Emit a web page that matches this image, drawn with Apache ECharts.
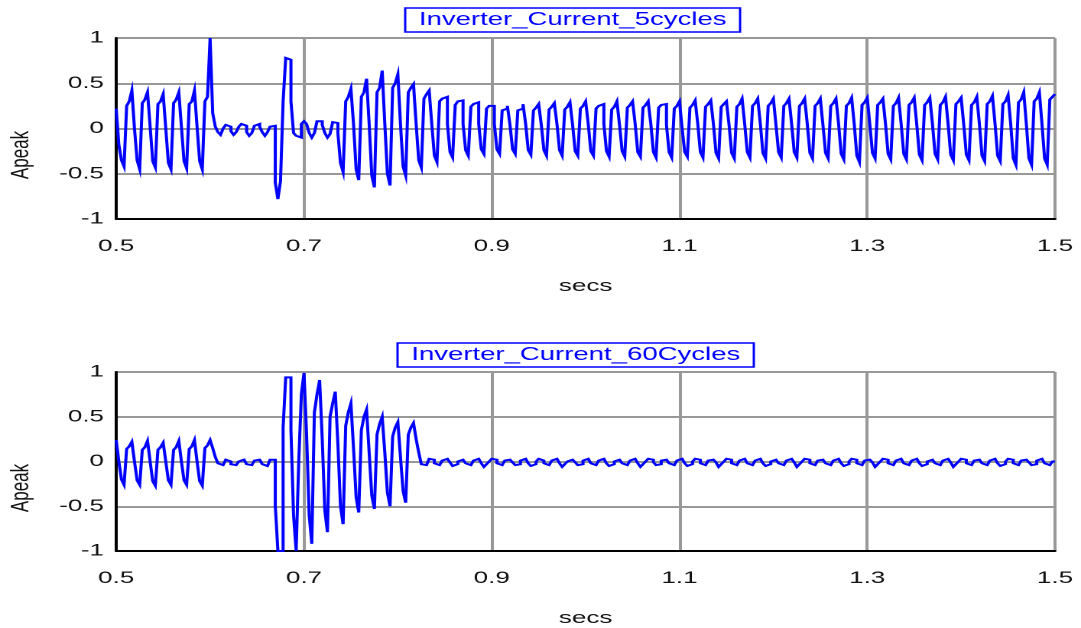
<!DOCTYPE html>
<html>
<head>
<meta charset="utf-8">
<script src="https://cdn.jsdelivr.net/npm/echarts@6/dist/echarts.min.js"></script>
<style>
  html, body { margin: 0; padding: 0; background: #fff; overflow: hidden; }
  /* the source plot is stretched horizontally, so draw narrow and stretch */
  #chart { width: 707px; height: 628px; transform: scaleX(1.529); transform-origin: 0 0; }
</style>
</head>
<body>
<div id="chart"></div>
<script>
// 采样: 0.5s 起, 每个 60Hz 周期 6 个点 (dt = 1/360 s)
var tStart = 0.5;
var dt = 1 / 360;

var titles = ['Inverter_Current_5cycles', 'Inverter_Current_60Cycles'];
var xName = 'secs';
var yName = 'Apeak';

// 上图: 每行一个周期 [峰, 中, 低, 谷, 高, 高]
var curr5 = [
  [0.22, -0.18, -0.35, -0.42, 0.25, 0.3],
  [0.42, 0.0, -0.35, -0.45, 0.28, 0.32],
  [0.4, 0.02, -0.36, -0.43, 0.27, 0.3],
  [0.38, 0.0, -0.38, -0.45, 0.28, 0.32],
  [0.4, 0.02, -0.36, -0.44, 0.27, 0.3],
  [0.42, 0.02, -0.36, -0.45, 0.3, 0.35],
  [1.0, 0.17, 0.02, -0.04, -0.07, 0.0],
  [0.04, 0.02, -0.03, -0.07, -0.04, 0.02],
  [0.05, 0.03, -0.04, -0.08, -0.05, 0.03],
  [0.05, 0.02, -0.04, -0.08, -0.04, 0.02],
  [0.03, -0.6, -0.78, -0.58, 0.3, 0.78],
  [0.76, 0.3, -0.05, -0.08, -0.1, 0.05],
  [0.08, 0.05, -0.05, -0.1, -0.05, 0.08],
  [0.08, 0.04, -0.05, -0.1, -0.06, 0.07],
  [0.06, -0.05, -0.38, -0.48, 0.3, 0.35],
  [0.44, 0.05, -0.45, -0.57, 0.35, 0.4],
  [0.55, 0.05, -0.52, -0.65, 0.4, 0.45],
  [0.64, 0.05, -0.5, -0.63, 0.45, 0.5],
  [0.6, 0.05, -0.42, -0.52, 0.4, 0.45],
  [0.49, 0.05, -0.35, -0.43, 0.33, 0.38],
  [0.42, 0.05, -0.3, -0.37, 0.3, 0.33],
  [0.35, 0.05, -0.26, -0.32, 0.26, 0.3],
  [0.31, 0.05, -0.24, -0.3, 0.24, 0.27],
  [0.29, 0.05, -0.23, -0.28, 0.22, 0.25],
  [0.25, 0.05, -0.23, -0.28, 0.2, 0.22],
  [0.25, 0.04, -0.23, -0.28, 0.2, 0.22],
  [0.27, 0.05, -0.24, -0.29, 0.2, 0.23],
  [0.27, 0.04, -0.24, -0.3, 0.21, 0.24],
  [0.28, 0.05, -0.24, -0.3, 0.21, 0.24],
  [0.29, 0.04, -0.25, -0.3, 0.22, 0.25],
  [0.3, 0.05, -0.25, -0.3, 0.22, 0.25],
  [0.27, 0.05, -0.25, -0.31, 0.21, 0.24],
  [0.3, 0.04, -0.25, -0.31, 0.23, 0.26],
  [0.3, 0.05, -0.26, -0.31, 0.23, 0.26],
  [0.3, 0.05, -0.26, -0.32, 0.23, 0.26],
  [0.27, 0.04, -0.26, -0.32, 0.22, 0.25],
  [0.3, 0.0, -0.26, -0.31, 0.23, 0.26],
  [0.31, 0.05, -0.26, -0.32, 0.24, 0.27],
  [0.31, 0.05, -0.27, -0.33, 0.24, 0.27],
  [0.3, 0.04, -0.27, -0.33, 0.24, 0.27],
  [0.33, 0.05, -0.26, -0.32, 0.25, 0.28],
  [0.33, 0.05, -0.27, -0.33, 0.25, 0.28],
  [0.33, 0.04, -0.26, -0.32, 0.25, 0.28],
  [0.33, 0.05, -0.26, -0.32, 0.25, 0.28],
  [0.33, 0.05, -0.27, -0.33, 0.25, 0.28],
  [0.33, 0.04, -0.27, -0.33, 0.25, 0.28],
  [0.33, 0.05, -0.28, -0.34, 0.25, 0.28],
  [0.34, 0.05, -0.3, -0.37, 0.26, 0.29],
  [0.34, 0.04, -0.27, -0.33, 0.26, 0.29],
  [0.33, 0.05, -0.28, -0.34, 0.25, 0.28],
  [0.34, 0.05, -0.28, -0.34, 0.26, 0.29],
  [0.34, 0.04, -0.29, -0.35, 0.26, 0.29],
  [0.34, 0.05, -0.28, -0.34, 0.26, 0.29],
  [0.35, 0.05, -0.29, -0.35, 0.27, 0.3],
  [0.34, 0.04, -0.29, -0.35, 0.26, 0.29],
  [0.35, 0.05, -0.3, -0.36, 0.27, 0.3],
  [0.36, 0.05, -0.3, -0.36, 0.27, 0.3],
  [0.37, 0.05, -0.33, -0.4, 0.29, 0.32],
  [0.4, 0.05, -0.33, -0.4, 0.3, 0.33],
  [0.4, 0.05, -0.33, -0.4, 0.32, 0.35]
];
var curr5End = 0.38;

// 下图
var curr60 = [
  [0.24, 0.0, -0.2, -0.26, 0.14, 0.17],
  [0.22, 0.0, -0.21, -0.26, 0.13, 0.16],
  [0.23, 0.0, -0.22, -0.27, 0.13, 0.16],
  [0.21, 0.0, -0.21, -0.26, 0.13, 0.16],
  [0.23, 0.0, -0.21, -0.26, 0.14, 0.17],
  [0.24, 0.0, -0.22, -0.27, 0.15, 0.18],
  [0.24, 0.15, 0.05, -0.02, -0.04, -0.03],
  [0.02, 0.0, -0.03, -0.04, -0.03, 0.0],
  [0.02, 0.01, -0.03, -0.04, -0.03, 0.01],
  [0.02, 0.0, -0.03, -0.05, -0.04, 0.02],
  [0.02, -0.5, -1.0, -1.0, 0.38, 0.94],
  [0.94, 0.35, -0.6, -1.0, 0.0, 0.75],
  [0.99, 0.3, -0.6, -0.92, 0.55, 0.75],
  [0.91, 0.25, -0.55, -0.79, 0.5, 0.65],
  [0.78, 0.2, -0.5, -0.7, 0.4, 0.55],
  [0.65, 0.15, -0.4, -0.57, 0.35, 0.5],
  [0.58, 0.1, -0.38, -0.53, 0.3, 0.42],
  [0.5, 0.1, -0.35, -0.5, 0.28, 0.38],
  [0.44, 0.05, -0.33, -0.46, 0.3, 0.38],
  [0.43, 0.25, 0.1, -0.03, -0.04, -0.02],
  [0.03, 0.02, -0.02, -0.04, -0.03, 0.01],
  [0.03, 0.02, -0.01, -0.05, -0.03, 0.0],
  [0.02, 0.02, -0.02, -0.04, -0.02, 0.01],
  [0.03, 0.01, -0.02, -0.06, -0.03, 0.0],
  [0.03, 0.02, -0.02, -0.04, -0.03, 0.01],
  [0.02, 0.02, -0.01, -0.04, -0.03, 0.01],
  [0.03, 0.02, -0.02, -0.05, -0.03, 0.0],
  [0.03, 0.01, -0.02, -0.04, -0.02, 0.01],
  [0.03, 0.02, -0.02, -0.06, -0.03, 0.0],
  [0.02, 0.02, -0.01, -0.04, -0.03, 0.01],
  [0.03, 0.02, -0.02, -0.04, -0.03, 0.01],
  [0.03, 0.01, -0.02, -0.05, -0.03, 0.0],
  [0.02, 0.02, -0.02, -0.04, -0.02, 0.01],
  [0.03, 0.02, -0.02, -0.06, -0.03, 0.0],
  [0.03, 0.02, -0.01, -0.04, -0.03, 0.01],
  [0.02, 0.01, -0.02, -0.04, -0.03, 0.01],
  [0.03, 0.02, -0.02, -0.05, -0.03, 0.0],
  [0.03, 0.02, -0.02, -0.04, -0.02, 0.01],
  [0.02, 0.02, -0.01, -0.06, -0.03, 0.0],
  [0.03, 0.02, -0.02, -0.04, -0.03, 0.01],
  [0.03, 0.01, -0.02, -0.04, -0.03, 0.01],
  [0.03, 0.02, -0.02, -0.05, -0.03, 0.0],
  [0.02, 0.02, -0.02, -0.04, -0.02, 0.01],
  [0.03, 0.02, -0.01, -0.06, -0.03, 0.0],
  [0.03, 0.02, -0.02, -0.04, -0.03, 0.01],
  [0.02, 0.01, -0.02, -0.04, -0.03, 0.01],
  [0.03, 0.02, -0.02, -0.05, -0.03, 0.0],
  [0.03, 0.02, -0.02, -0.04, -0.02, 0.01],
  [0.02, 0.02, -0.01, -0.06, -0.03, 0.0],
  [0.03, 0.02, -0.02, -0.04, -0.03, 0.01],
  [0.03, 0.01, -0.02, -0.04, -0.03, 0.01],
  [0.03, 0.02, -0.02, -0.05, -0.03, 0.0],
  [0.02, 0.02, -0.02, -0.04, -0.02, 0.01],
  [0.03, 0.02, -0.01, -0.06, -0.03, 0.0],
  [0.03, 0.02, -0.02, -0.04, -0.03, 0.01],
  [0.02, 0.01, -0.02, -0.04, -0.03, 0.01],
  [0.03, 0.02, -0.02, -0.05, -0.03, 0.0],
  [0.03, 0.02, -0.02, -0.04, -0.02, 0.01],
  [0.02, 0.02, -0.01, -0.04, -0.03, 0.01],
  [0.03, 0.02, -0.02, -0.04, -0.03, 0.0]
];
var curr60End = 0.0;

// 采样保持: 每个采样值保持到下一个采样时刻 (阶梯线)
function toPoints(rows, last) {
  var pts = [];
  var prev = null;
  for (var k = 0; k < rows.length; k++) {
    for (var j = 0; j < rows[k].length; j++) {
      var t = tStart + (k * 6 + j) * dt;
      if (prev !== null) pts.push([t, prev]);
      pts.push([t, rows[k][j]]);
      prev = rows[k][j];
    }
  }
  var tEnd = tStart + rows.length * 6 * dt;
  pts.push([tEnd, prev]);
  pts.push([tEnd, last]);
  return pts;
}

var font = 'Liberation Sans, Arial, sans-serif';
var blue = '#0000ff';
var grey = '#989898';

function xAxisOf(i) {
  return {
    gridIndex: i,
    type: 'value',
    min: 0.5,
    max: 1.5,
    interval: 0.2,
    name: xName,
    nameLocation: 'middle',
    nameGap: 59,
    nameTextStyle: { color: '#111', fontSize: 17, fontFamily: font },
    axisLine: { show: true, onZero: false, lineStyle: { color: '#000', width: 2 } },
    axisTick: { show: false },
    axisLabel: {
      color: '#111', fontSize: 17, fontFamily: font, margin: 19,
      formatter: function (v) { return v.toFixed(1); }
    },
    splitLine: { show: true, showMinLine: false, lineStyle: { color: grey, width: 2 } }
  };
}

function yAxisOf(i) {
  return {
    gridIndex: i,
    type: 'value',
    min: -1,
    max: 1,
    interval: 0.5,
    axisLine: { show: true, onZero: false, lineStyle: { color: '#000', width: 2 } },
    axisTick: { show: false },
    axisLabel: { color: '#111', fontSize: 17, fontFamily: font, margin: 8 },
    splitLine: { show: true, showMinLine: false, lineStyle: { color: grey, width: 2 } }
  };
}

function seriesOf(i, data) {
  return {
    type: 'line',
    xAxisIndex: i,
    yAxisIndex: i,
    showSymbol: false,
    data: data,
    lineStyle: { color: blue, width: 2, join: 'miter', cap: 'butt' },
    z: 3
  };
}

function titleOf(text, left, top) {
  return {
    text: text,
    left: left,
    top: top,
    padding: [3, 9],
    borderColor: blue,
    borderWidth: 1.5,
    textStyle: { color: blue, fontSize: 18, fontWeight: 'normal', fontFamily: font }
  };
}

function yNameOf(y) {
  return {
    type: 'text',
    x: 14,
    y: y,
    rotation: Math.PI / 2,
    style: {
      text: yName, fill: '#111', font: '17px ' + font,
      textAlign: 'center', textVerticalAlign: 'middle'
    }
  };
}

var myChart = echarts.init(document.getElementById('chart'), null, { renderer: 'canvas', devicePixelRatio: 2 });

var option = {
  animation: false,
  backgroundColor: '#fff',
  title: [titleOf(titles[0], 265, 8), titleOf(titles[1], 260, 343)],
  grid: [
    { left: 76, width: 614, top: 38, height: 181 },
    { left: 76, width: 614, top: 372, height: 180 }
  ],
  xAxis: [xAxisOf(0), xAxisOf(1)],
  yAxis: [yAxisOf(0), yAxisOf(1)],
  series: [seriesOf(0, toPoints(curr5, curr5End)), seriesOf(1, toPoints(curr60, curr60End))],
  graphic: [yNameOf(155), yNameOf(488)]
};

myChart.setOption(option);
</script>
</body>
</html>
